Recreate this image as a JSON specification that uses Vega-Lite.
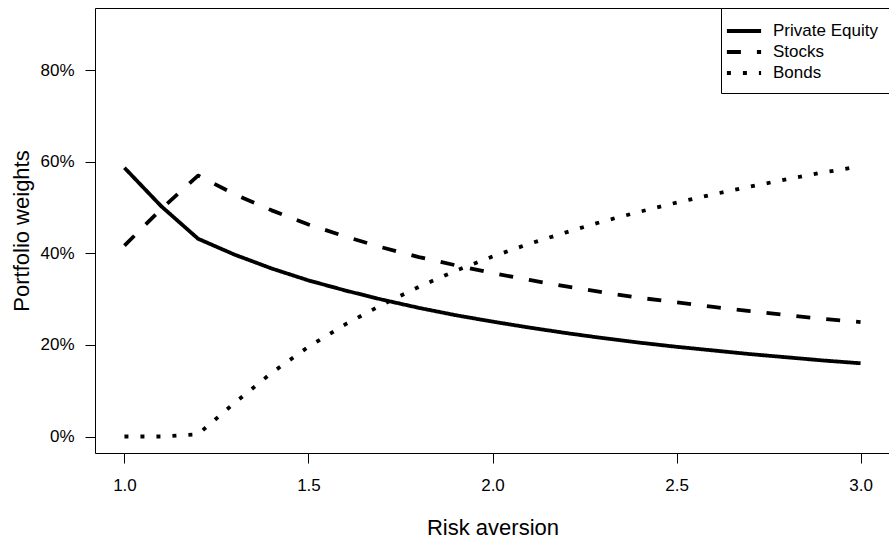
{
  "$schema": "https://vega.github.io/schema/vega-lite/v6.json",
  "width": 795,
  "height": 445,
  "autosize": {"type": "none"},
  "padding": {"left": 95, "top": 8, "right": 0, "bottom": 86},
  "background": "white",
  "config": {
    "font": "Liberation Sans",
    "view": {"stroke": "black", "strokeWidth": 1},
    "axis": {
      "domain": false,
      "grid": false,
      "tickColor": "black",
      "tickWidth": 1,
      "tickSize": 10,
      "labelColor": "black",
      "labelFont": "Liberation Sans",
      "labelFontSize": 17,
      "titleFont": "Liberation Sans",
      "titleFontSize": 22,
      "titleFontWeight": "normal",
      "titleColor": "black"
    }
  },
  "data": {
    "values": [
      {"gamma": 1.0, "asset": "Private Equity", "weight": 0.587},
      {"gamma": 1.1, "asset": "Private Equity", "weight": 0.503},
      {"gamma": 1.2, "asset": "Private Equity", "weight": 0.432},
      {"gamma": 1.3, "asset": "Private Equity", "weight": 0.397},
      {"gamma": 1.4, "asset": "Private Equity", "weight": 0.367},
      {"gamma": 1.5, "asset": "Private Equity", "weight": 0.341},
      {"gamma": 1.6, "asset": "Private Equity", "weight": 0.319},
      {"gamma": 1.7, "asset": "Private Equity", "weight": 0.299},
      {"gamma": 1.8, "asset": "Private Equity", "weight": 0.281},
      {"gamma": 1.9, "asset": "Private Equity", "weight": 0.265},
      {"gamma": 2.0, "asset": "Private Equity", "weight": 0.251},
      {"gamma": 2.1, "asset": "Private Equity", "weight": 0.238},
      {"gamma": 2.2, "asset": "Private Equity", "weight": 0.226},
      {"gamma": 2.3, "asset": "Private Equity", "weight": 0.215},
      {"gamma": 2.4, "asset": "Private Equity", "weight": 0.205},
      {"gamma": 2.5, "asset": "Private Equity", "weight": 0.196},
      {"gamma": 2.6, "asset": "Private Equity", "weight": 0.188},
      {"gamma": 2.7, "asset": "Private Equity", "weight": 0.180},
      {"gamma": 2.8, "asset": "Private Equity", "weight": 0.173},
      {"gamma": 2.9, "asset": "Private Equity", "weight": 0.166},
      {"gamma": 3.0, "asset": "Private Equity", "weight": 0.160},
      {"gamma": 1.0, "asset": "Stocks", "weight": 0.417},
      {"gamma": 1.1, "asset": "Stocks", "weight": 0.497},
      {"gamma": 1.2, "asset": "Stocks", "weight": 0.570},
      {"gamma": 1.3, "asset": "Stocks", "weight": 0.529},
      {"gamma": 1.4, "asset": "Stocks", "weight": 0.494},
      {"gamma": 1.5, "asset": "Stocks", "weight": 0.463},
      {"gamma": 1.6, "asset": "Stocks", "weight": 0.437},
      {"gamma": 1.7, "asset": "Stocks", "weight": 0.413},
      {"gamma": 1.8, "asset": "Stocks", "weight": 0.392},
      {"gamma": 1.9, "asset": "Stocks", "weight": 0.374},
      {"gamma": 2.0, "asset": "Stocks", "weight": 0.357},
      {"gamma": 2.1, "asset": "Stocks", "weight": 0.342},
      {"gamma": 2.2, "asset": "Stocks", "weight": 0.328},
      {"gamma": 2.3, "asset": "Stocks", "weight": 0.315},
      {"gamma": 2.4, "asset": "Stocks", "weight": 0.303},
      {"gamma": 2.5, "asset": "Stocks", "weight": 0.293},
      {"gamma": 2.6, "asset": "Stocks", "weight": 0.283},
      {"gamma": 2.7, "asset": "Stocks", "weight": 0.274},
      {"gamma": 2.8, "asset": "Stocks", "weight": 0.265},
      {"gamma": 2.9, "asset": "Stocks", "weight": 0.257},
      {"gamma": 3.0, "asset": "Stocks", "weight": 0.250},
      {"gamma": 1.0, "asset": "Bonds", "weight": 0.0},
      {"gamma": 1.1, "asset": "Bonds", "weight": 0.0},
      {"gamma": 1.2, "asset": "Bonds", "weight": 0.005},
      {"gamma": 1.3, "asset": "Bonds", "weight": 0.074},
      {"gamma": 1.4, "asset": "Bonds", "weight": 0.139},
      {"gamma": 1.5, "asset": "Bonds", "weight": 0.196},
      {"gamma": 1.6, "asset": "Bonds", "weight": 0.245},
      {"gamma": 1.7, "asset": "Bonds", "weight": 0.288},
      {"gamma": 1.8, "asset": "Bonds", "weight": 0.327},
      {"gamma": 1.9, "asset": "Bonds", "weight": 0.362},
      {"gamma": 2.0, "asset": "Bonds", "weight": 0.393},
      {"gamma": 2.1, "asset": "Bonds", "weight": 0.421},
      {"gamma": 2.2, "asset": "Bonds", "weight": 0.446},
      {"gamma": 2.3, "asset": "Bonds", "weight": 0.470},
      {"gamma": 2.4, "asset": "Bonds", "weight": 0.491},
      {"gamma": 2.5, "asset": "Bonds", "weight": 0.511},
      {"gamma": 2.6, "asset": "Bonds", "weight": 0.529},
      {"gamma": 2.7, "asset": "Bonds", "weight": 0.546},
      {"gamma": 2.8, "asset": "Bonds", "weight": 0.562},
      {"gamma": 2.9, "asset": "Bonds", "weight": 0.577},
      {"gamma": 3.0, "asset": "Bonds", "weight": 0.590}
    ]
  },
  "mark": {"type": "line", "color": "black", "strokeWidth": 3.8, "strokeCap": "butt", "strokeJoin": "round"},
  "encoding": {
    "x": {
      "field": "gamma",
      "type": "quantitative",
      "scale": {"domain": [0.92, 3.08], "nice": false, "zero": false},
      "axis": {"values": [1, 1.5, 2, 2.5, 3], "format": ".1f", "labelPadding": 14, "title": "Risk aversion", "titlePadding": 24}
    },
    "y": {
      "field": "weight",
      "type": "quantitative",
      "scale": {"domain": [-0.036, 0.936], "nice": false, "zero": false},
      "axis": {"values": [0, 0.2, 0.4, 0.6, 0.8], "format": ".0%", "labelPadding": 11, "title": "Portfolio weights", "titlePadding": 6}
    },
    "strokeDash": {
      "field": "asset",
      "type": "nominal",
      "scale": {"domain": ["Private Equity", "Stocks", "Bonds"], "range": [[1, 0], [14, 16], [4, 12]]},
      "legend": {
        "title": null,
        "orient": "none",
        "legendX": 626,
        "legendY": 0,
        "strokeColor": "black",
        "fillColor": "white",
        "padding": 12,
        "symbolType": "M-1.9,0L1.9,0",
        "symbolSize": 324,
        "symbolStrokeWidth": 3.8,
        "symbolStrokeColor": "black",
        "symbolFillColor": "transparent",
        "labelFontSize": 17,
        "labelFont": "Liberation Sans",
        "labelColor": "black",
        "labelOffset": 18,
        "rowPadding": 2,
        "labelLimit": 300
      }
    },
    "order": {"field": "gamma", "type": "quantitative"}
  }
}
